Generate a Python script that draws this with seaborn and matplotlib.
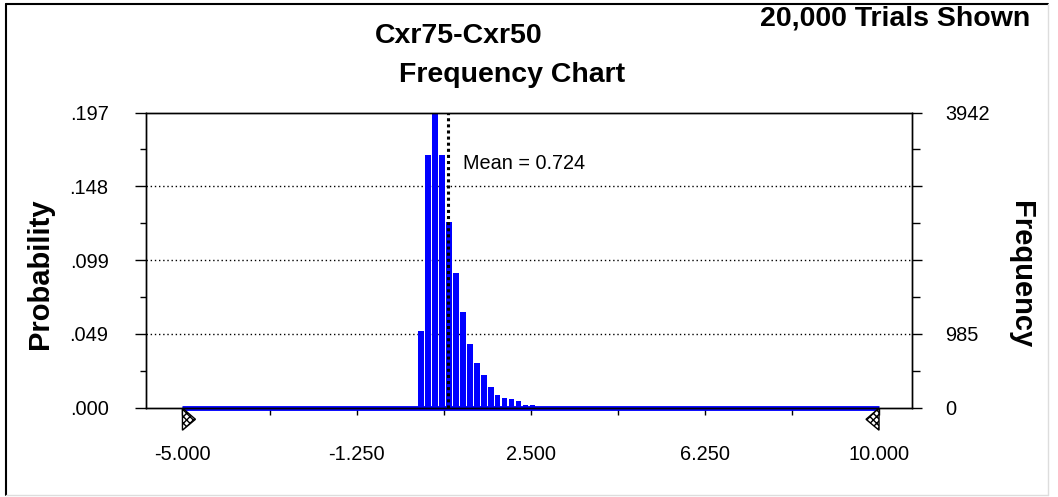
import numpy as np
import matplotlib
matplotlib.use('Agg')
import matplotlib.pyplot as plt
import seaborn as sns
from matplotlib.patches import Polygon
from matplotlib.lines import Line2D
from matplotlib.ticker import FixedLocator

# Data
trials = 20000
mean_value = 0.724
range_lo, range_hi = -5.0, 10.0
bar_x = [0.14, 0.29, 0.44, 0.59, 0.74, 0.89, 1.04, 1.19, 1.34, 1.49,
         1.64, 1.79, 1.94, 2.09, 2.24, 2.39, 2.54]
bar_freq = [1022, 3376, 3942, 3370, 2475, 1802, 1278, 847, 592, 430,
            269, 161, 121, 108, 81, 40, 40]
x_ticks = [-5.0, -1.25, 2.5, 6.25, 10.0]
x_ticklabels = ['-5.000', '-1.250', '2.500', '6.250', '10.000']
freq_max = 3942
prob_ticklabels = ['.000', '.049', '.099', '.148', '.197']
freq_ticklabels = ['0', '985', '', '', '3942']

sns.set_theme(style='white')
plt.rcParams['font.family'] = ['Liberation Sans', 'DejaVu Sans']
plt.rcParams['text.color'] = 'black'
plt.rcParams['xtick.color'] = 'black'
plt.rcParams['ytick.color'] = 'black'
plt.rcParams['axes.labelcolor'] = 'black'

bar_prob = [f / trials for f in bar_freq]
prob_max = freq_max / trials

fig = plt.figure(figsize=(10.58, 4.97), dpi=100)
ax = fig.add_axes([146 / 1058, 89.5 / 497, 766 / 1058, 295 / 497])

sns.barplot(x=bar_x, y=bar_prob, native_scale=True, color='#0000ff',
            saturation=1, width=0.78, linewidth=0, ax=ax, zorder=3)

# blue baseline over the forecast range
ax.plot([range_lo, range_hi], [0, 0], color='#0000ff', lw=3.5,
        solid_capstyle='butt', clip_on=False, zorder=2)

ax.set_xlim(-5.785, 10.71)
ax.set_ylim(0, prob_max)

# ticks
ax.set_xticks(x_ticks)
ax.set_xticklabels(x_ticklabels)
ax.xaxis.set_minor_locator(FixedLocator([-3.125, 0.625, 4.375, 8.125]))
yt = [prob_max * i / 4 for i in range(5)]
ax.set_yticks(yt)
ax.set_yticklabels(prob_ticklabels)
ax.yaxis.set_minor_locator(FixedLocator([prob_max * (2 * i + 1) / 8 for i in range(4)]))
ax.tick_params(axis='x', which='both', direction='out', length=5, width=1,
               color='black', bottom=True, labelsize=14.4, pad=22, labelcolor='black')
ax.tick_params(axis='y', which='major', direction='out', length=8, width=1,
               color='black', left=True, labelsize=14.4, pad=19, labelcolor='black')
ax.tick_params(axis='y', which='minor', direction='out', length=4, width=1,
               color='black', left=True)
ax.set_xlabel('')
ax.set_ylabel('')

ax.grid(False)
for v in yt[1:4]:
    ax.axhline(v, color='black', linestyle=(0, (1, 2)), lw=1, zorder=1)

ax.axvline(mean_value, color='black', linestyle=(0, (1, 1)), lw=2.2, zorder=4)
ax.text(1.05, 0.163, 'Mean = 0.724', fontsize=14.3, va='center', ha='left',
        color='black', zorder=5)

for s in ax.spines.values():
    s.set_color('black')
    s.set_linewidth(1)
    s.set_zorder(6)

# frequency axis on the right
ax2 = ax.twinx()
ax2.set_ylim(0, freq_max)
ax2.set_yticks([freq_max * i / 4 for i in range(5)])
ax2.set_yticklabels(freq_ticklabels)
ax2.yaxis.set_minor_locator(FixedLocator([freq_max * (2 * i + 1) / 8 for i in range(4)]))
ax2.tick_params(axis='y', which='major', direction='out', length=7, width=1,
                color='black', right=True, labelsize=14.4, pad=17, labelcolor='black')
ax2.tick_params(axis='y', which='minor', direction='out', length=6, width=1,
                color='black', right=True)
ax2.grid(False)
for s in ax2.spines.values():
    s.set_color('black')
    s.set_linewidth(1)

# end grabbers under the axis
tr = ax.get_xaxis_transform()
dx = 13 / 46.4
for xv, sgn in [(range_lo, 1), (range_hi, -1)]:
    tri = Polygon([(xv, -0.002), (xv, -0.077), (xv + sgn * dx, -0.04)],
                  closed=True, transform=tr, clip_on=False, facecolor='white',
                  edgecolor='black', hatch='xxxxx', lw=1, zorder=7)
    ax.add_patch(tri)

# titles
fig.text(459 / 1058, 1 - 43 / 497, 'Cxr75-Cxr50', ha='center', va='baseline',
         fontsize=20.5, fontweight='bold', color='black')
fig.text(512 / 1058, 1 - 82 / 497, 'Frequency Chart', ha='center', va='baseline',
         fontsize=20.5, fontweight='bold', color='black')
fig.text(1030 / 1058, 1 - 26 / 497, '20,000 Trials Shown', ha='right', va='baseline',
         fontsize=20.5, fontweight='bold', color='black')
fig.text(40 / 1058, 1 - 274 / 497, 'Probability', rotation=90, ha='center',
         va='center', fontsize=21, fontweight='bold', color='black')
fig.text(1021 / 1058, 1 - 275 / 497, 'Frequency', rotation=270, ha='center',
         va='center', fontsize=21, fontweight='bold', color='black')

# outer frame
fig.add_artist(Line2D([6 / 1058, 6 / 1058], [1 - 495 / 497, 1 - 4 / 497],
                      transform=fig.transFigure, color='black', lw=1.5))
fig.add_artist(Line2D([6 / 1058, 1048 / 1058], [1 - 4 / 497, 1 - 4 / 497],
                      transform=fig.transFigure, color='black', lw=1.5))
fig.add_artist(Line2D([1048 / 1058, 1048 / 1058], [1 - 495 / 497, 1 - 4 / 497],
                      transform=fig.transFigure, color='#dddddd', lw=1))
fig.add_artist(Line2D([6 / 1058, 1048 / 1058], [1 - 495 / 497, 1 - 495 / 497],
                      transform=fig.transFigure, color='#dddddd', lw=1))

fig.savefig('out.png', dpi=100, facecolor='white')
